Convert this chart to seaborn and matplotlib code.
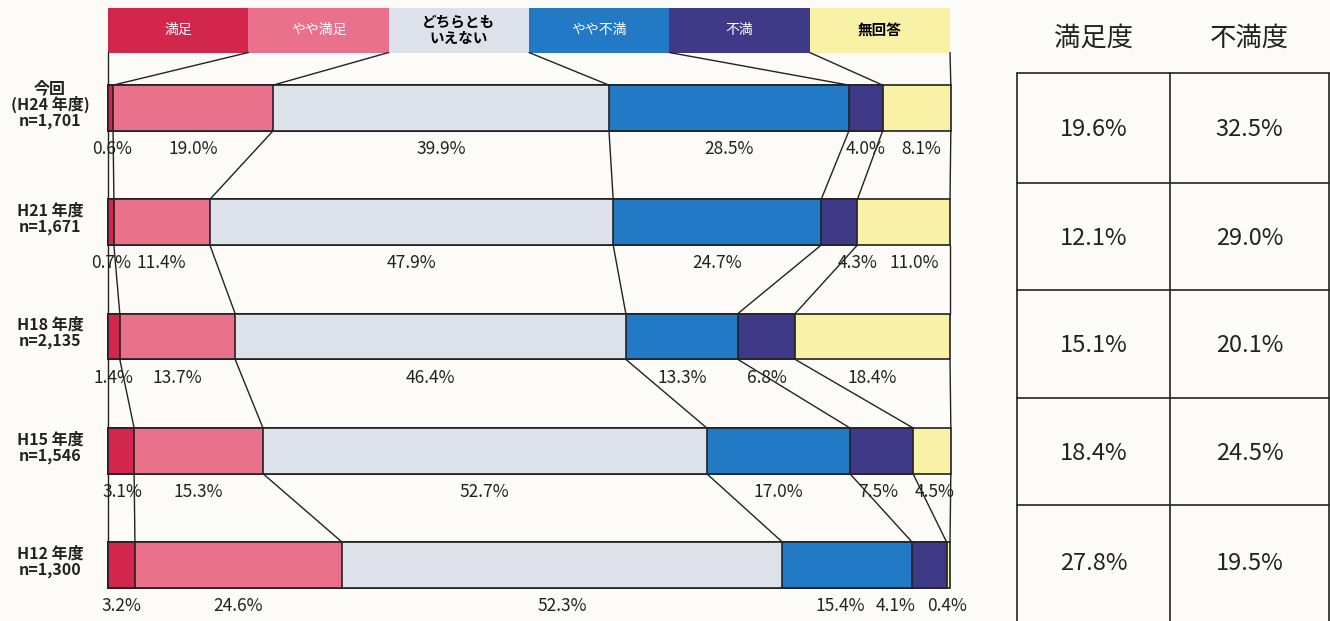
"""
Satisfaction survey: stacked bars by survey year with a summary table
"""

import matplotlib.pyplot as plt
import seaborn as sns
import pandas as pd
import numpy as np

# data
categories = ['満足', 'やや満足', 'どちらとも\nいえない', 'やや不満', '不満', '無回答']
rows = ['今回\n(H24 年度)\nn=1,701', 'H21 年度\nn=1,671', 'H18 年度\nn=2,135',
        'H15 年度\nn=1,546', 'H12 年度\nn=1,300']
manzoku = [0.6, 0.7, 1.4, 3.1, 3.2]
yaya_manzoku = [19.0, 11.4, 13.7, 15.3, 24.6]
dochira = [39.9, 47.9, 46.4, 52.7, 52.3]
yaya_fuman = [28.5, 24.7, 13.3, 17.0, 15.4]
fuman = [4.0, 4.3, 6.8, 7.5, 4.1]
mukaito = [8.1, 11.0, 18.4, 4.5, 0.4]

colors = ['#d3264c', '#e9718b', '#dde2ea', '#2279c6', '#3e3a88', '#f8f1a6']
legend_text_colors = ['white', 'white', 'black', 'white', 'white', 'black']

# small horizontal nudges (in %) for crowded labels: (row, category) -> shift
label_shift = {(0, 0): 0.2, (0, 5): 0.5, (1, 1): -0.1, (1, 4): 2.2, (1, 5): 1.3,
               (3, 0): 0.2, (3, 4): -0.4, (3, 5): 0.3,
               (4, 3): -0.8, (4, 4): -4.0, (4, 5): -0.1}

values = np.array([manzoku, yaya_manzoku, dochira, yaya_fuman, fuman, mukaito]).T
cum = np.cumsum(values, axis=1)
satisfied = values[:, 0] + values[:, 1]
dissatisfied = values[:, 3] + values[:, 4]

df = pd.DataFrame([
    {'row': r, 'cat': c, 'value': values[i, j], 'cum': cum[i, j]}
    for i, r in enumerate(rows) for j, c in enumerate(categories)
])

sns.set_theme(style='white')
plt.rcParams['font.family'] = ['Noto Sans CJK JP', 'DejaVu Sans']
bg = '#fcfbf7'
ink = '#222222'

fig = plt.figure(figsize=(13.3, 6.21), dpi=100, facecolor=bg)
W, H = 1330, 621

# bar area: 0% at x=108px, 100% at x=950px; row 0 at y=108px, spacing 114.25px
px_per = 8.42
x_lo, x_hi = -1.0, 101.5
ax = fig.add_axes([(108 + x_lo * px_per) / W, 0, (x_hi - x_lo) * px_per / W, 1])
ax.set_facecolor('none')
bar_h = 0.4
for j in range(len(categories) - 1, -1, -1):
    sub = df[df['cat'] == categories[j]]
    sns.barplot(data=sub, x='cum', y='row', order=rows, orient='h', color=colors[j],
                saturation=1, width=bar_h, edgecolor=ink, linewidth=1.2,
                errorbar=None, ax=ax)

row_px0, row_step = 108, 114.25
ax.set_xlim(x_lo, x_hi)
ax.set_ylim((H - row_px0) / row_step, -row_px0 / row_step)
ax.set_xticks([])
ax.set_yticks([])
ax.set_xlabel('')
ax.set_ylabel('')
sns.despine(ax=ax, left=True, bottom=True)

# legend boxes
leg_y = (30 - row_px0) / row_step
leg_h = 45 / row_step
leg_w = 100 / len(categories)
for j, c in enumerate(categories):
    ax.add_patch(plt.Rectangle((j * leg_w, leg_y - leg_h / 2), leg_w, leg_h,
                               facecolor=colors[j], edgecolor='none'))
    bold = legend_text_colors[j] == 'black'
    ax.text((j + 0.5) * leg_w, leg_y, c, ha='center', va='center',
            color=legend_text_colors[j], fontsize=10.5 if bold else 10,
            fontweight='bold' if bold else 'normal', linespacing=1.0)

# connector lines
n_edges = len(categories) + 1
edges_leg = [j * leg_w for j in range(n_edges)]
top_edges = [0] + list(cum[0])
ax.plot(np.array([edges_leg, top_edges]),
        np.array([[leg_y + leg_h / 2] * n_edges, [-bar_h / 2] * n_edges]),
        color=ink, lw=1)
for i in range(len(rows) - 1):
    a = [0] + list(cum[i])
    b = [0] + list(cum[i + 1])
    ax.plot(np.array([a, b]),
            np.array([[i + bar_h / 2] * n_edges, [i + 1 - bar_h / 2] * n_edges]),
            color=ink, lw=1)

# percentage labels below bars, row labels on the left
for i in range(len(rows)):
    lefts = [0] + list(cum[i][:-1])
    for j in range(len(categories)):
        xc = lefts[j] + values[i, j] / 2 + label_shift.get((i, j), 0)
        ax.text(xc, i + bar_h / 2 + 0.16, f'{values[i, j]:.1f}%',
                ha='center', va='center', fontsize=12.5, color=ink)
    ax.text(-6.9, i - 0.03, rows[i], ha='center', va='center', fontsize=11.5,
            fontweight='bold', color=ink, linespacing=1.0, clip_on=False)

# summary table on the right
tax = fig.add_axes([980 / W, 0, 350 / W, 1])
tax.set_xlim(980, 1330)
tax.set_ylim(H, 0)
tax.axis('off')
tx0, tx1, tx2 = 1017, 1170, 1329
ty = [73, 183, 290, 398, 505, 618]
for y in ty[:-1]:
    tax.plot([tx0, tx2], [y, y], color=ink, lw=1.2)
for x in [tx0, tx1, tx2]:
    tax.plot([x, x], [ty[0], H], color=ink, lw=1.2)
tax.text((tx0 + tx1) / 2, 38, '満足度', ha='center', va='center', fontsize=19, color=ink)
tax.text((tx1 + tx2) / 2, 38, '不満度', ha='center', va='center', fontsize=19, color=ink)
for i in range(len(rows)):
    yc = (ty[i] + ty[i + 1]) / 2 + 2
    tax.text((tx0 + tx1) / 2, yc, f'{satisfied[i]:.1f}%', ha='center', va='center',
             fontsize=17, color=ink)
    tax.text((tx1 + tx2) / 2, yc, f'{dissatisfied[i]:.1f}%', ha='center', va='center',
             fontsize=17, color=ink)

plt.savefig('out.png', dpi=100, facecolor=bg)
